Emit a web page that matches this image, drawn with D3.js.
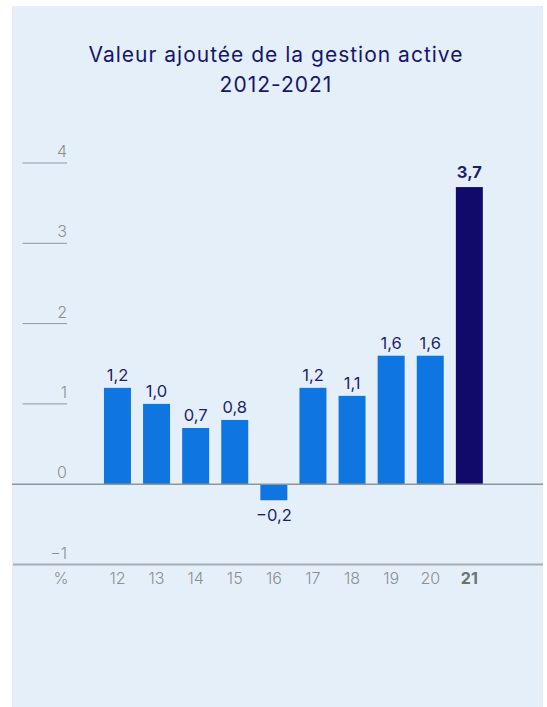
<!DOCTYPE html>
<html>
<head>
<meta charset="utf-8">
<script src="https://cdn.jsdelivr.net/npm/d3@7"></script>
<style>
  html, body { margin: 0; padding: 0; background: #ffffff; }
  svg { display: block; }
</style>
</head>
<body>
<svg id="chart" width="547" height="707"></svg>
<script>
// Active management value added, 2012-2021 (%)
const years = ["12", "13", "14", "15", "16", "17", "18", "19", "20", "21"];
const values = [1.2, 1.0, 0.7, 0.8, -0.2, 1.2, 1.1, 1.6, 1.6, 3.7];
const yTicks = [-1, 0, 1, 2, 3, 4];
const titleLines = ["Valeur ajoutée de la gestion active", "2012-2021"];
const unitLabel = "%";
const highlightYear = "21";

const fmt = v => (v < 0 ? "\u2212" : "") + Math.abs(v).toFixed(1).replace(".", ",");
const fmtTick = v => (v < 0 ? "\u2212" : "") + Math.abs(v);

const svg = d3.select("#chart");
const panel = { x0: 12, x1: 543, y0: 6, y1: 707 };

svg.append("rect")
  .attr("x", panel.x0).attr("y", panel.y0)
  .attr("width", panel.x1 - panel.x0).attr("height", panel.y1 - panel.y0)
  .attr("fill", "#e5eff9");

// Title
svg.append("g")
  .selectAll("text")
  .data(titleLines)
  .join("text")
  .attr("x", 276)
  .attr("y", (d, i) => 62 + i * 30)
  .attr("text-anchor", "middle")
  .attr("font-family", "Inter, 'Noto Sans', sans-serif")
  .attr("font-size", 21)
  .attr("letter-spacing", 1)
  .attr("fill", "#16166b")
  .text(d => d);

// Scales
const y = d3.scaleLinear().domain([-1, 4]).range([564.5, 163]);
const x = d3.scaleBand()
  .domain(years)
  .range([97.9, 488.9])
  .paddingInner(0.31)
  .paddingOuter(0.155);

// Y axis: short rules with labels above, full-width rules at 0 and -1
const axis = svg.append("g");
axis.selectAll("line.tick")
  .data(yTicks.filter(t => t > 0))
  .join("line")
  .attr("class", "tick")
  .attr("x1", 22.5).attr("x2", 67)
  .attr("y1", d => y(d)).attr("y2", d => y(d))
  .attr("stroke", "#8f9999").attr("stroke-width", 1);

axis.selectAll("text")
  .data(yTicks)
  .join("text")
  .attr("x", 67)
  .attr("y", d => y(d) - 6)
  .attr("text-anchor", "end")
  .attr("font-family", "Inter, 'Noto Sans', sans-serif")
  .attr("font-weight", 300)
  .attr("font-size", 16)
  .attr("fill", "#8a9090")
  .text(fmtTick);

// Bars
svg.append("g")
  .selectAll("rect")
  .data(years.map((k, i) => ({ k, v: values[i] })))
  .join("rect")
  .attr("x", d => x(d.k))
  .attr("width", x.bandwidth())
  .attr("y", d => y(Math.max(0, d.v)))
  .attr("height", d => Math.abs(y(d.v) - y(0)))
  .attr("fill", d => d.k === highlightYear ? "#110a6a" : "#0e75e1");

// Baseline at zero and bottom rule at -1
svg.append("line")
  .attr("x1", panel.x0).attr("x2", panel.x1)
  .attr("y1", y(0)).attr("y2", y(0))
  .attr("stroke", "#8d9797").attr("stroke-width", 1.5);
svg.append("line")
  .attr("x1", panel.x0 + 1).attr("x2", panel.x1)
  .attr("y1", y(-1)).attr("y2", y(-1))
  .attr("stroke", "#a6aeb0").attr("stroke-width", 2);

// Value labels
svg.append("g")
  .selectAll("text")
  .data(years.map((k, i) => ({ k, v: values[i] })))
  .join("text")
  .attr("x", d => x(d.k) + x.bandwidth() / 2)
  .attr("y", d => d.v >= 0 ? y(d.v) - (d.k === highlightYear ? 9 : 7) : y(d.v) + 21)
  .attr("text-anchor", "middle")
  .attr("font-family", "Inter, 'Noto Sans', sans-serif")
  .attr("font-size", 16.5)
  .attr("font-weight", d => d.k === highlightYear ? 700 : 400)
  .attr("fill", "#1e1e6e")
  .text(d => fmt(d.v));

// Category labels
const xl = svg.append("g");
xl.selectAll("text")
  .data(years)
  .join("text")
  .attr("x", d => x(d) + x.bandwidth() / 2)
  .attr("y", 584)
  .attr("text-anchor", "middle")
  .attr("font-family", "Inter, 'Noto Sans', sans-serif")
  .attr("font-size", 16)
  .attr("font-weight", d => d === highlightYear ? 700 : 300)
  .attr("fill", d => d === highlightYear ? "#6b7171" : "#8a9090")
  .text(d => d);
xl.append("text")
  .attr("x", 61).attr("y", 584)
  .attr("text-anchor", "middle")
  .attr("font-family", "Inter, 'Noto Sans', sans-serif")
  .attr("font-size", 16)
  .attr("font-weight", 300)
  .attr("fill", "#8a9090")
  .text(unitLabel);
</script>
</body>
</html>
